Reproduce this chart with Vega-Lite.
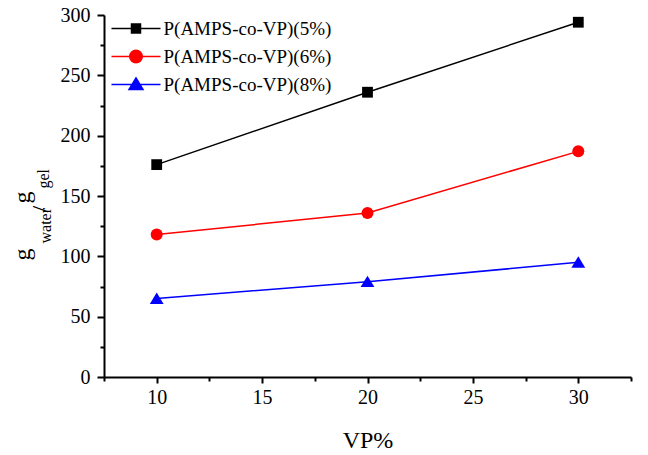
{
  "$schema": "https://vega.github.io/schema/vega-lite/v6.json",
  "width": 527,
  "height": 362,
  "autosize": {"type": "none"},
  "padding": {"left": 104, "top": 15, "right": 17, "bottom": 78},
  "background": "white",
  "config": {
    "view": {"stroke": null},
    "font": "Liberation Serif",
    "axis": {
      "grid": false,
      "domainColor": "black",
      "domainWidth": 2,
      "tickColor": "black",
      "tickWidth": 2,
      "labelColor": "black",
      "labelFont": "Liberation Serif",
      "titleFont": "Liberation Serif",
      "titleColor": "black",
      "titleFontWeight": "normal"
    },
    "legend": {
      "labelFont": "Liberation Serif",
      "labelFontSize": 19,
      "labelColor": "black",
      "labelLimit": 0,
      "labelOffset": 18,
      "symbolSize": 100,
      "symbolStrokeWidth": 1.5,
      "symbolOpacity": 1,
      "rowPadding": 8,
      "padding": 0
    }
  },
  "data": {
    "values": [
      {"series": "P(AMPS-co-VP)(5%)", "vp": 10, "ratio": 176},
      {"series": "P(AMPS-co-VP)(5%)", "vp": 20, "ratio": 236},
      {"series": "P(AMPS-co-VP)(5%)", "vp": 30, "ratio": 294},
      {"series": "P(AMPS-co-VP)(6%)", "vp": 10, "ratio": 118},
      {"series": "P(AMPS-co-VP)(6%)", "vp": 20, "ratio": 136},
      {"series": "P(AMPS-co-VP)(6%)", "vp": 30, "ratio": 187},
      {"series": "P(AMPS-co-VP)(8%)", "vp": 10, "ratio": 65},
      {"series": "P(AMPS-co-VP)(8%)", "vp": 20, "ratio": 79},
      {"series": "P(AMPS-co-VP)(8%)", "vp": 30, "ratio": 95}
    ]
  },
  "layer": [
    {
      "transform": [{"filter": "datum.series === 'P(AMPS-co-VP)(5%)'"}],
      "mark": {"type": "line", "color": "#000000", "strokeWidth": 1.5,
        "point": {"filled": true, "color": "#000000", "opacity": 1, "shape": "M-0.9,-0.9H0.9V0.9H-0.9Z", "size": 144}},
      "encoding": {
        "x": {
          "field": "vp", "type": "quantitative",
          "scale": {"domain": [7.5, 32.5], "nice": false, "zero": false},
          "axis": {
            "orient": "bottom",
            "values": [7.5, 10, 12.5, 15, 17.5, 20, 22.5, 25, 27.5, 30, 32.5],
            "labelExpr": "datum.value % 5 === 0 ? datum.label : ''",
            "tickSize": {"condition": {"test": "datum.value % 5 === 0", "value": 6}, "value": 4},
            "labelFontSize": 20,
            "labelPadding": 4,
            "labelFlush": false,
            "labelOverlap": false,
            "title": "VP%",
            "titleFontSize": 24,
            "titleBaseline": "alphabetic",
            "titleY": 70
          }
        },
        "y": {
          "field": "ratio", "type": "quantitative",
          "scale": {"domain": [0, 300], "nice": false},
          "axis": {
            "orient": "left",
            "values": [0, 25, 50, 75, 100, 125, 150, 175, 200, 225, 250, 275, 300],
            "labelExpr": "datum.value % 50 === 0 ? datum.label : ''",
            "tickSize": {"condition": {"test": "datum.value % 50 === 0", "value": 7}, "value": 4},
            "labelFontSize": 20,
            "labelPadding": 7,
            "labelFlush": false,
            "labelOverlap": false,
            "title": "g",
            "titleFontSize": 24,
            "titleAngle": 270,
            "titleAlign": "left",
            "titleBaseline": "alphabetic",
            "titleX": -75,
            "titleY": 245
          }
        }
      }
    },
    {
      "transform": [{"filter": "datum.series === 'P(AMPS-co-VP)(6%)'"}],
      "mark": {"type": "line", "color": "#ff0000", "strokeWidth": 1.5,
        "point": {"filled": true, "color": "#ff0000", "opacity": 1, "shape": "circle", "size": 144}},
      "encoding": {
        "x": {"field": "vp", "type": "quantitative", "axis": null},
        "y": {"field": "ratio", "type": "quantitative", "axis": null}
      }
    },
    {
      "transform": [{"filter": "datum.series === 'P(AMPS-co-VP)(8%)'"}],
      "mark": {"type": "line", "color": "#0000ff", "strokeWidth": 1.5,
        "point": {"filled": true, "color": "#0000ff", "opacity": 1, "shape": "M0,-1L1.15,0.9H-1.15Z", "size": 144}},
      "encoding": {
        "x": {"field": "vp", "type": "quantitative", "axis": null},
        "y": {"field": "ratio", "type": "quantitative", "axis": null}
      }
    },
    {
      "transform": [{"filter": "false"}],
      "mark": {"type": "point", "filled": true, "opacity": 1, "strokeWidth": 1.5},
      "encoding": {
        "color": {
          "field": "series", "type": "nominal",
          "scale": {"domain": ["P(AMPS-co-VP)(5%)", "P(AMPS-co-VP)(6%)", "P(AMPS-co-VP)(8%)"], "range": ["#000000", "#ff0000", "#0000ff"]},
          "legend": {"title": null, "orient": "none", "legendX": 22.5, "legendY": 4, "symbolOpacity": 1}
        },
        "stroke": {
          "field": "series", "type": "nominal",
          "scale": {"domain": ["P(AMPS-co-VP)(5%)", "P(AMPS-co-VP)(6%)", "P(AMPS-co-VP)(8%)"], "range": ["#000000", "#ff0000", "#0000ff"]},
          "legend": {"title": null, "orient": "none", "legendX": 22.5, "legendY": 4, "symbolOpacity": 1}
        },
        "shape": {
          "field": "series", "type": "nominal",
          "scale": {"domain": ["P(AMPS-co-VP)(5%)", "P(AMPS-co-VP)(6%)", "P(AMPS-co-VP)(8%)"],
            "range": ["M-4.9,0H4.9M-0.9,-0.9H0.9V0.9H-0.9Z", "M-4.9,0H4.9M-1.25,0A1.25,1.25 0 1,1 1.25,0A1.25,1.25 0 1,1 -1.25,0Z", "M-4.9,0H4.9M0,-1.3L1.4,1H-1.4Z"]},
          "legend": {"title": null, "orient": "none", "legendX": 22.5, "legendY": 4, "symbolOpacity": 1}
        }
      }
    },
    {
      "mark": {"type": "point", "opacity": 0},
      "encoding": {
        "x": {"field": "vp", "type": "quantitative", "axis": null},
        "y": {
          "field": "ratio", "type": "quantitative",
          "axis": {"orient": "left", "domain": false, "ticks": false, "labels": false, "grid": false,
            "title": "water", "titleFontSize": 16, "titleAngle": 270, "titleAlign": "left", "titleBaseline": "alphabetic", "titleX": -54, "titleY": 228}
        }
      }
    },
    {
      "mark": {"type": "point", "opacity": 0},
      "encoding": {
        "x": {"field": "vp", "type": "quantitative", "axis": null},
        "y": {
          "field": "ratio", "type": "quantitative",
          "axis": {"orient": "left", "domain": false, "ticks": false, "labels": false, "grid": false,
            "title": "/", "titleFontSize": 24, "titleAngle": 270, "titleAlign": "left", "titleBaseline": "alphabetic", "titleX": -57, "titleY": 197}
        }
      }
    },
    {
      "mark": {"type": "point", "opacity": 0},
      "encoding": {
        "x": {"field": "vp", "type": "quantitative", "axis": null},
        "y": {
          "field": "ratio", "type": "quantitative",
          "axis": {"orient": "left", "domain": false, "ticks": false, "labels": false, "grid": false,
            "title": "g", "titleFontSize": 24, "titleAngle": 270, "titleAlign": "left", "titleBaseline": "alphabetic", "titleX": -75, "titleY": 188}
        }
      }
    },
    {
      "mark": {"type": "point", "opacity": 0},
      "encoding": {
        "x": {"field": "vp", "type": "quantitative", "axis": null},
        "y": {
          "field": "ratio", "type": "quantitative",
          "axis": {"orient": "left", "domain": false, "ticks": false, "labels": false, "grid": false,
            "title": "gel", "titleFontSize": 16, "titleAngle": 270, "titleAlign": "left", "titleBaseline": "alphabetic", "titleX": -56, "titleY": 173}
        }
      }
    }
  ],
  "resolve": {"axis": {"x": "independent", "y": "independent"}}
}
